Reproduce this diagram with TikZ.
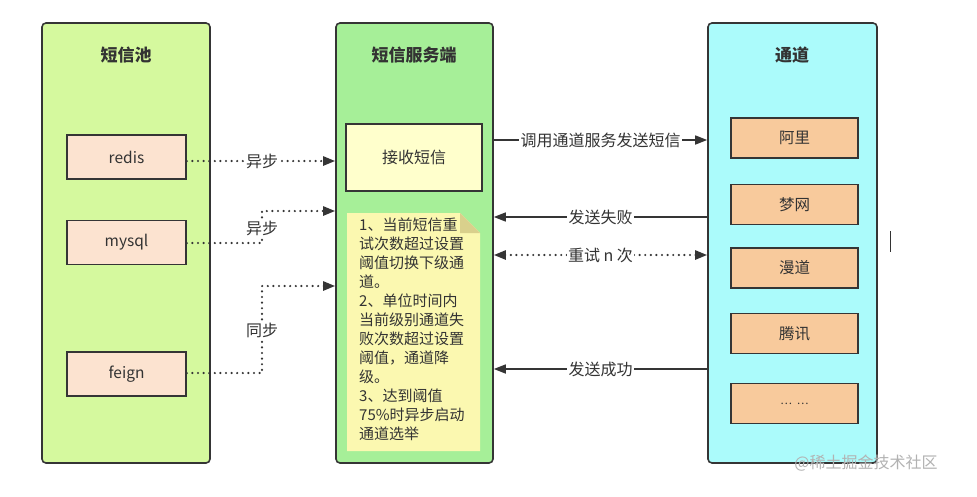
\documentclass[tikz,border=0pt]{standalone}
\usepackage{fontspec}
\setmainfont{Noto Sans CJK SC}
\usetikzlibrary{arrows.meta}
\definecolor{poolc}{HTML}{D5F99E}
\definecolor{midc}{HTML}{A6EF98}
\definecolor{chanc}{HTML}{ABFBFB}
\definecolor{lboxc}{HTML}{FCE3D0}
\definecolor{rboxc}{HTML}{F8CA9C}
\definecolor{recvc}{HTML}{FFFFCC}
\definecolor{notec}{HTML}{FBF8B0}
\definecolor{foldc}{HTML}{D9D08C}
\definecolor{edgec}{HTML}{353535}
\definecolor{txtc}{HTML}{333333}
\begin{document}
\begin{tikzpicture}[x=1pt,y=-1pt,
  panel/.style={draw=edgec,line width=1.6pt,rounded corners=4pt,inner sep=0pt},
  ptitle/.style={text=txtc,font=\fontsize{17}{20}\selectfont\bfseries},
  lbox/.style={draw=edgec,line width=1.6pt,fill=lboxc,minimum width=119pt,minimum height=44pt,inner sep=0pt,text=txtc,font=\fontsize{15.5}{18}\selectfont},
  rbox/.style={draw=edgec,line width=1.6pt,fill=rboxc,minimum width=127pt,minimum height=40pt,inner sep=0pt,text=txtc,font=\fontsize{15.5}{18}\selectfont},
  arr/.style={draw=edgec,line width=1.5pt,-{Triangle[length=12pt,width=9pt]}},
  darr/.style={arr,line width=2.4pt,dash pattern=on 0pt off 5.6pt,line cap=round},
  lab/.style={fill=white,inner sep=1.5pt,text=txtc,font=\fontsize{16}{18}\selectfont},
]
\useasboundingbox (0,0) rectangle (977,496);
\fill[white] (0,0) rectangle (977,496);

% panels
\node[panel,fill=poolc,minimum width=168pt,minimum height=440pt] (pool) at (126,243) {};
\node[panel,fill=midc,minimum width=157pt,minimum height=440pt] (mid) at (414.5,243) {};
\node[panel,fill=chanc,minimum width=169pt,minimum height=440pt] (chan) at (792.5,243) {};

\node[ptitle] (tpool) at (126,55) {短信池};
\node[ptitle] (tmid) at (414,55) {短信服务端};
\node[ptitle] (tchan) at (792,55) {通道};

% left boxes
\node[lbox] (redis) at (126.5,157) {redis};
\node[lbox] (mysql) at (126.5,242.5) {mysql};
\node[lbox] (feign) at (126.5,374) {feign};

% middle
\node[draw=edgec,line width=1.6pt,fill=recvc,minimum width=136pt,minimum height=67pt,inner sep=0pt,text=txtc,font=\fontsize{16}{18}\selectfont] (recv) at (414,157.5) {接收短信};
\fill[notec] (347,213) -- (460,213) -- (480,233) -- (480,451) -- (347,451) -- cycle;
\fill[foldc] (460,213) -- (480,233) -- (460,233) -- cycle;
\node[anchor=north west,inner sep=0pt,align=left,text=txtc,font=\fontsize{15}{19}\selectfont] (note) at (359,218) {1、当前短信重\\试次数超过设置\\阈值切换下级通\\道。\\2、单位时间内\\当前级别通道失\\败次数超过设置\\阈值，通道降\\级。\\3、达到阈值\\75\%时异步启动\\通道选举};

% right boxes
\node[rbox] (ali) at (794.5,138) {阿里};
\node[rbox] (meng) at (794.5,204.5) {梦网};
\node[rbox] (man) at (794.5,268) {漫道};
\node[rbox] (teng) at (794.5,333.5) {腾讯};
\node[rbox] (more) at (794.5,403.5) {\fontsize{11}{12}\selectfont …\ \ …};

% right connectors
\coordinate (ya) at (0,140);
\coordinate (yb) at (0,217);
\coordinate (yc) at (0,255);
\coordinate (yd) at (0,369);
\draw[arr] (mid.east |- ya) -- node[lab] {调用通道服务发送短信} (chan.west |- ya);
\draw[arr] (chan.west |- yb) -- node[lab] {发送失败} (mid.east |- yb);
\draw[darr,{Triangle[length=12pt,width=9pt]}-{Triangle[length=12pt,width=9pt]}] (mid.east |- yc) -- node[lab] {重试 n 次} (chan.west |- yc);
\draw[arr] (chan.west |- yd) -- node[lab] {发送成功} (mid.east |- yd);

% left connectors
\coordinate (r1) at (262,161);
\coordinate (m1) at (262,243);
\coordinate (m2) at (262,211);
\coordinate (f1) at (262,373);
\coordinate (f2) at (262,286);
\draw[darr] (redis.east |- r1) -- (r1) -- (mid.west |- r1);
\node[lab] (l1) at (r1) {异步};
\draw[darr] (mysql.east |- m1) -- (m1) -- (m2) -- (mid.west |- m2);
\node[lab] (l2) at (262,228) {异步};
\draw[darr] (feign.east |- f1) -- (f1) -- (f2) -- (mid.west |- f2);
\node[lab] (l3) at (262,330) {同步};

% watermark and cursor
\node[text=black!30,font=\fontsize{16}{18}\selectfont,inner sep=0pt] (wm) at (866,463) {@稀土掘金技术社区};
\draw[black!80,line width=0.8pt] (890,231) -- (890,252);
\end{tikzpicture}
\end{document}
